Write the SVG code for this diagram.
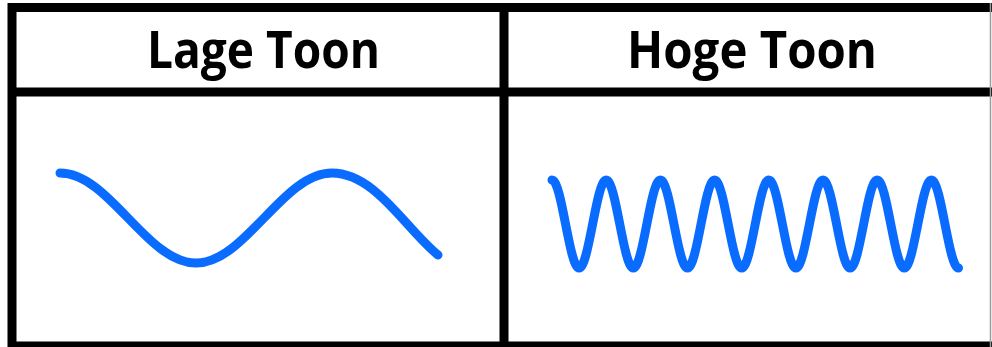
<svg xmlns="http://www.w3.org/2000/svg" width="992" height="347" viewBox="0 0 992 347">
<style>
.grid{stroke:#000;stroke-width:9;fill:none}
.hdr{font-family:"Open Sans","Liberation Sans",sans-serif;font-weight:700;font-size:52px;fill:#000;text-anchor:middle}
.wave{fill:none;stroke:#0a6cff;stroke-width:9;stroke-linecap:round;stroke-linejoin:round}
</style>
<rect width="992" height="347" fill="#fff"/>
<g id="table">
<line class="grid" x1="8" y1="7.5" x2="992" y2="7.5"/>
<line class="grid" x1="12" y1="3" x2="12" y2="347"/>
<line class="grid" x1="8" y1="346" x2="992" y2="346"/>
<line class="grid" x1="8" y1="92" x2="992" y2="92"/>
<line class="grid" x1="504" y1="3" x2="504" y2="347"/>
<line x1="990.5" y1="3" x2="990.5" y2="347" stroke="#9a9a9a" stroke-width="1.5"/>
</g>
<g id="lage">
<text class="hdr" x="263.5" y="68" textLength="233" lengthAdjust="spacingAndGlyphs">Lage Toon</text>
<path class="wave" d="M60,173 C109.5,173 146.5,263 196,263 S282.5,173 332,173 C375,173 405,228 438,255"/>
</g>
<g id="hoge">
<text class="hdr" x="752" y="68" textLength="250" lengthAdjust="spacingAndGlyphs">Hoge Toon</text>
<path class="wave" d="M552,180 C561.9,180 569.2,268 579.1,268 S596.3,180 606.2,180 S623.4,268 633.3,268 S650.5,180 660.4,180 S677.6,268 687.5,268 S704.7,180 714.6,180 S731.8,268 741.7,268 S758.9,180 768.8,180 S786,268 795.9,268 S813.1,180 823,180 S840.2,268 850.1,268 S867.3,180 877.2,180 S894.4,268 904.3,268 S921.5,180 931.4,180 S948.6,268 958.5,268"/>
</g>
</svg>
